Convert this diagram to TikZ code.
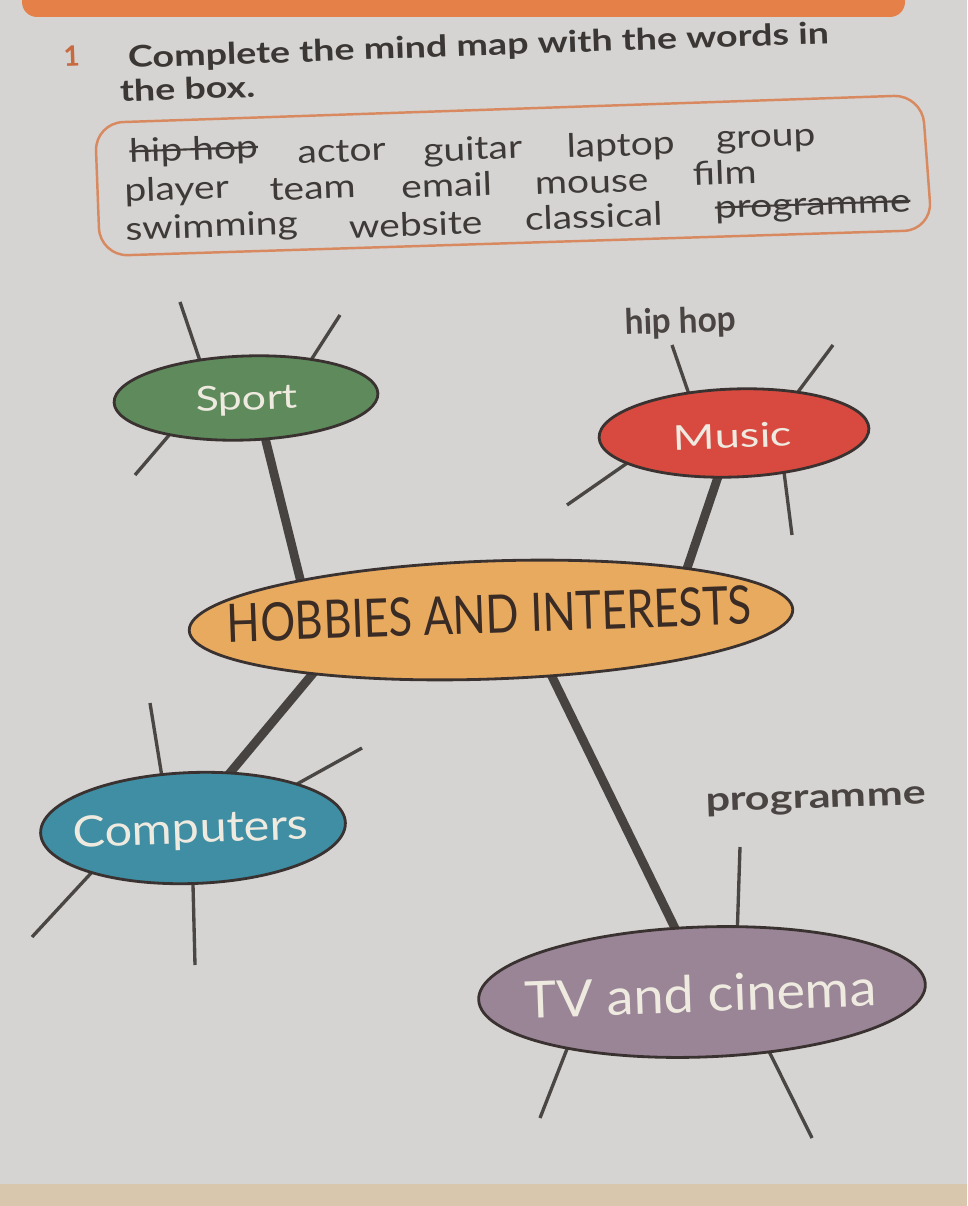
\documentclass[tikz,border=0pt]{standalone}
\usepackage{fontspec}
\setmainfont{Lato}
\usepackage{graphicx}
\usetikzlibrary{shapes.geometric}
\definecolor{bgc}{HTML}{D5D4D2}
\definecolor{barc}{HTML}{E58049}
\definecolor{stripc}{HTML}{D9C7AD}
\definecolor{boxc}{HTML}{D8895F}
\definecolor{wordc}{HTML}{3E3A38}
\definecolor{titlec}{HTML}{3B3735}
\definecolor{numc}{HTML}{C8693F}
\definecolor{sportc}{HTML}{5F8B5C}
\definecolor{musicc}{HTML}{D84A40}
\definecolor{hobc}{HTML}{E8AA5E}
\definecolor{compc}{HTML}{3F8EA3}
\definecolor{tvc}{HTML}{9A8597}
\definecolor{edgec}{HTML}{3A3230}
\definecolor{trunkc}{HTML}{474341}
\definecolor{spokec}{HTML}{4A4644}
\definecolor{labc}{HTML}{EEEAE0}
\definecolor{hobtc}{HTML}{3A2C25}
\definecolor{handc}{HTML}{4A4543}
\pgfdeclarelayer{bg}
\pgfdeclarelayer{lines}
\pgfsetlayers{bg,lines,main}
\newcommand{\hsc}[2]{\scalebox{#1}[1]{#2}}
\newcommand{\strk}[1]{\setbox0\hbox{#1}\rlap{\rule[0.3em]{\wd0}{0.065em}}\box0}
\tikzset{
  word/.style={anchor=base, inner sep=0pt, rotate=2, text=wordc, font=\fontsize{18.5}{22}\selectfont},
  hand/.style={anchor=base, inner sep=0pt, rotate=2, text=handc, font=\bfseries\fontsize{20}{24}\selectfont},
  bubble/.style={ellipse, draw=edgec, line width=1.6pt, inner sep=0pt, rotate=2},
  blabel/.style={anchor=base, inner sep=0pt, rotate=2, text=labc},
  trunk/.style={draw=trunkc, line width=5pt, shorten <=-6pt, shorten >=-6pt},
  spoke/.style={draw=spokec, line width=1.9pt, shorten <=-5pt},
  heading/.style={anchor=base west, inner sep=0pt, rotate=2, text=titlec, font=\bfseries\fontsize{17}{20}\selectfont},
}
\begin{document}
\begin{tikzpicture}[x=0.02cm,y=-0.02cm]
\useasboundingbox (0,0) rectangle (967,1206);
\begin{pgfonlayer}{bg}
  \fill[bgc] (0,0) rectangle (967,1206);
  \fill[barc, rounded corners=0.3cm] (22,-20) rectangle (905,17);
  \fill[stripc] (0,1184) rectangle (967,1206);
\end{pgfonlayer}

% heading
\node[anchor=base, inner sep=0pt, rotate=2, text=numc, font=\bfseries\fontsize{16}{18}\selectfont] (num) at (72,66) {1};
\node[heading] (title1) at (128,68) {\hsc{1.26}{Complete the mind map with the words in}};
\node[heading] (title2) at (120,102) {\hsc{1.26}{the box.}};

% word box
\draw[boxc, line width=1.4pt, rounded corners=0.56cm] (95,123) -- (922,95) -- (932,230) -- (100,256) -- cycle;
\node[word] (w1) at (194,160) {\hsc{1.2}{\strk{hip hop}}};
\node[word] (w2) at (342,162) {\hsc{1.2}{actor}};
\node[word] (w3) at (473,160) {\hsc{1.2}{guitar}};
\node[word] (w4) at (621,156) {\hsc{1.2}{laptop}};
\node[word] (w5) at (766,147) {\hsc{1.2}{group}};
\node[word] (w6) at (177,200) {\hsc{1.2}{player}};
\node[word] (w7) at (313,199) {\hsc{1.2}{team}};
\node[word] (w8) at (447,197) {\hsc{1.2}{email}};
\node[word] (w9) at (592,193) {\hsc{1.2}{mouse}};
\node[word] (w10) at (725,184) {\hsc{1.2}{film}};
\node[word] (w11) at (212,237) {\hsc{1.2}{swimming}};
\node[word] (w12) at (416,236) {\hsc{1.2}{website}};
\node[word] (w13) at (594,228) {\hsc{1.2}{classical}};
\node[word] (w14) at (813,215) {\hsc{1.2}{\strk{programme}}};

% bubbles
\node[bubble, fill=sportc, minimum width=5.28cm, minimum height=1.68cm] (sport) at (246,398) {};
\node[blabel, font=\fontsize{19.5}{22}\selectfont] (sportt) at (247,410) {\hsc{1.25}{Sport}};
\node[bubble, fill=musicc, minimum width=5.4cm, minimum height=1.76cm] (music) at (734,433) {};
\node[blabel, font=\fontsize{19.5}{22}\selectfont] (musict) at (733,448) {\hsc{1.32}{Music}};
\node[bubble, fill=hobc, minimum width=12.08cm, minimum height=2.36cm] (hob) at (491,620) {};
\node[blabel, text=hobtc, font=\fontsize{30.2}{34}\selectfont] (hobt) at (490,633) {\hsc{0.82}{HOBBIES AND INTERESTS}};
\node[bubble, fill=compc, minimum width=6.1cm, minimum height=2.22cm] (comp) at (193,828) {};
\node[blabel, font=\fontsize{24.5}{28}\selectfont] (compt) at (191,843) {\hsc{1.13}{Computers}};
\node[bubble, fill=tvc, minimum width=8.94cm, minimum height=2.6cm] (tv) at (702,992) {};
\node[blabel, font=\fontsize{29}{33}\selectfont] (tvt) at (701,1012) {\hsc{1.06}{TV and cinema}};

% handwritten answers
\node[hand] (hiphop) at (681,333) {\hsc{0.95}{hip hop}};
\node[hand, font=\bfseries\fontsize{19}{22}\selectfont] (prog) at (816,808) {\hsc{1.29}{programme}};

% free ends of spokes
\coordinate (s1) at (180,302);
\coordinate (s2) at (340,315);
\coordinate (s3) at (135,475);
\coordinate (m1) at (672,345);
\coordinate (m2) at (833,345);
\coordinate (m3) at (567,505);
\coordinate (m4) at (792,535);
\coordinate (c1) at (150,703);
\coordinate (c2) at (362,748);
\coordinate (c3) at (32,937);
\coordinate (c4) at (195,965);
\coordinate (t1) at (740,847);
\coordinate (t2) at (540,1118);
\coordinate (t3) at (812,1138);

\begin{pgfonlayer}{lines}
  \draw[trunk] (sport.293) -- (hob.166);
  \draw[trunk] (music.248) -- (hob.13.5);
  \draw[trunk] (hob.195.5) -- (comp.54);
  \draw[trunk] (hob.315.4) -- (tv.111);
  \draw[spoke] (sport.138) -- (s1);
  \draw[spoke] (sport.29) -- (s2);
  \draw[spoke] (sport.204) -- (s3);
  \draw[spoke] (music.136) -- (m1);
  \draw[spoke] (music.31) -- (m2);
  \draw[spoke] (music.194) -- (m3);
  \draw[spoke] (music.319) -- (m4);
  \draw[spoke] (comp.118) -- (c1);
  \draw[spoke] (comp.21) -- (c2);
  \draw[spoke] (comp.202) -- (c3);
  \draw[spoke] (comp.268) -- (c4);
  \draw[spoke] (tv.60) -- (t1);
  \draw[spoke] (tv.201) -- (t2);
  \draw[spoke] (tv.316) -- (t3);
\end{pgfonlayer}
\end{tikzpicture}
\end{document}
